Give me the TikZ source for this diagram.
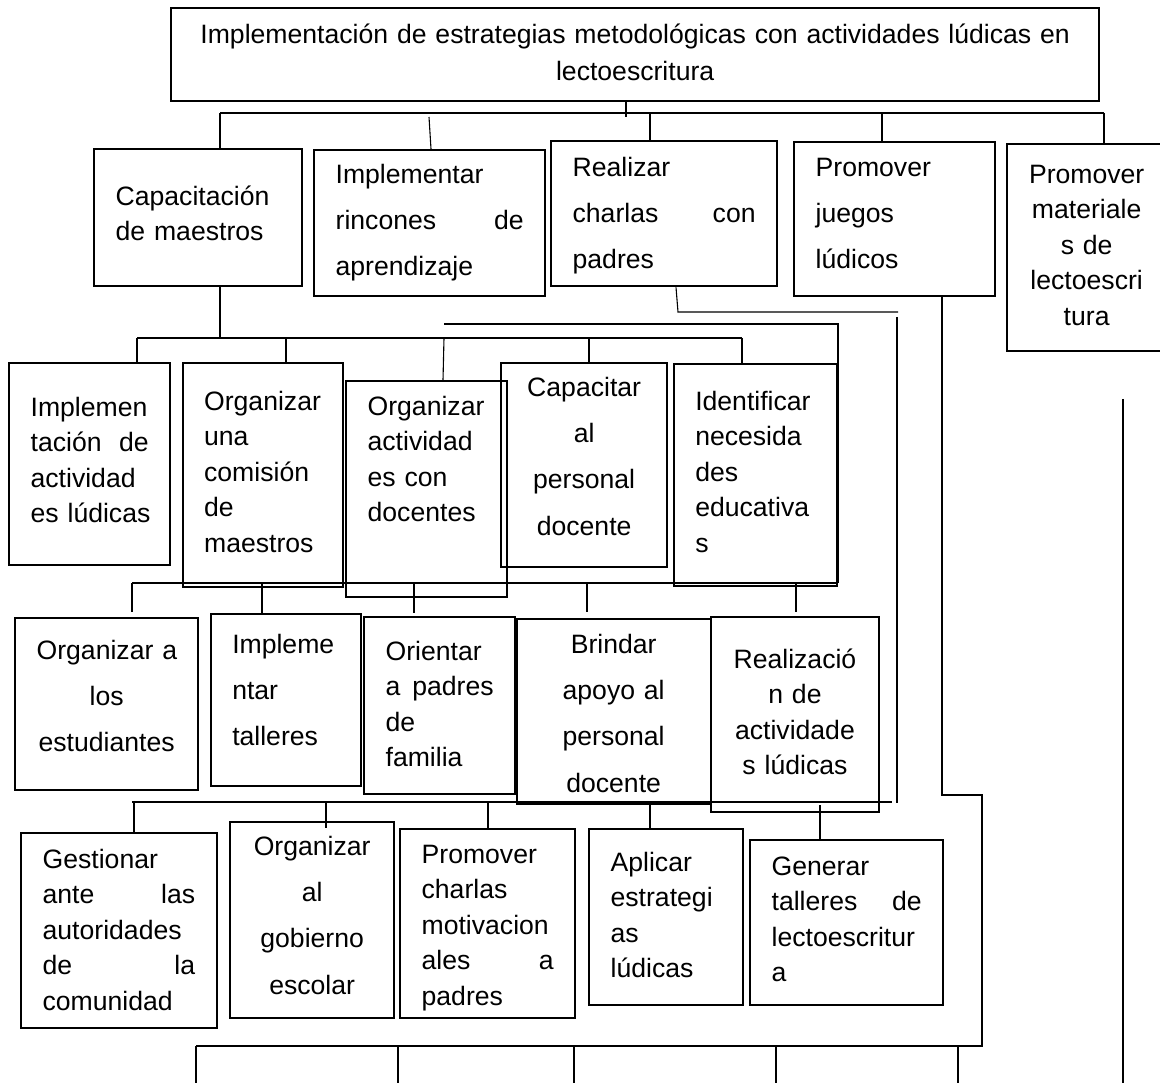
\documentclass[tikz,border=0pt]{standalone}
\usepackage{fontspec}
\setmainfont{Liberation Sans}
\hyphenpenalty=10000
\exhyphenpenalty=10000

\begin{document}
\begin{tikzpicture}[x=1pt, y=-1pt,
    caja/.style={draw, line width=2.3pt, anchor=north west, inner xsep=21.5pt, inner ysep=0pt, text height=0pt},
    uno/.style={font=\fontsize{26.6}{35.5}\selectfont},
    dos/.style={font=\fontsize{26.6}{46.3}\selectfont},
    linea/.style={line width=1.1pt}]
    \useasboundingbox (0,0) rectangle (1160,1083);

    % objetivo general
    \node[caja, align=center, font=\fontsize{26.6}{37}\selectfont, minimum width=928pt, minimum height=93pt, text width=885pt, text depth=23pt] (titulo) at (170,7) {Implementación de estrategias metodológicas con actividades lúdicas en\\lectoescritura};

    % primer nivel
    \node[caja, uno, align=left, minimum width=208pt, minimum height=137pt, text width=165pt, text depth=25pt] (capa) at (93,148) {Capacitación\\de~maestros};
    \node[caja, dos, align=left, minimum width=231pt, minimum height=146pt, text width=188pt, text depth=80pt] (rincones) at (313,149) {Implementar\\rincones\nobreak\hfill de\\aprendizaje};
    \node[caja, dos, align=left, minimum width=226pt, minimum height=145pt, text width=183pt, text depth=75pt] (realizar) at (550,140) {Realizar\\charlas\nobreak\hfill con\\padres};
    \node[caja, dos, align=left, minimum width=201pt, minimum height=154pt, text width=158pt, text depth=86pt] (juegos) at (793,141) {Promover\\juegos\\lúdicos};
    \node[caja, uno, align=center, minimum width=159pt, minimum height=207pt, text width=116pt, text depth=129pt] (materiales) at (1006,143) {Promover\\materiale\\s~de\\lectoescri\\tura};

    % segundo nivel
    \node[caja, uno, align=left, minimum width=161pt, minimum height=202pt, text width=118pt, text depth=96pt] (implact) at (8,362) {Implemen\\tación\nobreak\hfill de\\actividad\\es~lúdicas};
    \node[caja, uno, align=left, minimum width=160pt, minimum height=224pt, text width=117pt, text depth=130pt] (comision) at (181.5,362) {Organizar\\una\\comisión\\de\\maestros};
    \node[caja, uno, align=left, minimum width=161pt, minimum height=216pt, text width=118pt, text depth=148pt] (orgact) at (345,380) {Organizar\\actividad\\es~con\\docentes};
    \node[caja, dos, align=center, minimum width=166pt, minimum height=204pt, text width=123pt, text depth=138pt] (capacitar) at (500,362) {Capacitar\\al\\personal\\docente};
    \node[caja, uno, align=left, minimum width=163pt, minimum height=222pt, text width=120pt, text depth=130pt] (identificar) at (672.6,363) {Identificar\\necesida\\des\\educativa\\s};

    % tercer nivel
    \node[caja, dos, align=center, minimum width=183pt, minimum height=172pt, text width=140pt, text depth=90pt] (orgest) at (14,617) {Organizar~a\\los\\estudiantes};
    \node[caja, dos, align=left, minimum width=150.4pt, minimum height=172pt, text width=107.4pt, text depth=94pt] (talleres) at (209.6,613) {Impleme\\ntar\\talleres};
    \node[caja, uno, align=left, minimum width=151pt, minimum height=177pt, text width=108pt, text depth=91pt] (orientar) at (363,616) {Orientar\\a\nobreak\hfill padres\\de\\familia};
    \node[caja, dos, align=center, minimum width=194pt, minimum height=185pt, text width=151pt, text depth=117pt] (brindar) at (515.5,618) {Brindar\\apoyo~al\\personal\\docente};
    \node[caja, uno, align=center, minimum width=168.4pt, minimum height=195pt, text width=125.4pt, text depth=93pt] (realizacion) at (709.6,616) {Realizació\\n~de\\actividade\\s~lúdicas};

    % cuarto nivel
    \node[caja, uno, align=left, minimum width=195.5pt, minimum height=195pt, text width=152.5pt, text depth=125pt] (gestionar) at (20,832) {Gestionar\\ante\nobreak\hfill las\\autoridades\\de\nobreak\hfill la\\comunidad};
    \node[caja, dos, align=center, minimum width=164pt, minimum height=196pt, text width=121pt, text depth=130pt] (gobierno) at (229,821) {Organizar\\al\\gobierno\\escolar};
    \node[caja, uno, align=left, minimum width=175pt, minimum height=189pt, text width=132pt, text depth=121pt] (charlas) at (399,828) {Promover\\charlas\\motivacion\\ales\nobreak\hfill a\\padres};
    \node[caja, uno, align=left, minimum width=154pt, minimum height=176pt, text width=111pt, text depth=92pt] (aplicar) at (588,828) {Aplicar\\estrategi\\as\\lúdicas};
    \node[caja, uno, align=left, minimum width=193pt, minimum height=165pt, text width=150pt, text depth=95pt] (generar) at (749,839) {Generar\\talleres\nobreak\hfill de\\lectoescritur\\a};

    % conectores del objetivo
    \coordinate (a0) at (626,117);
    \coordinate (a1) at (220,113);
    \coordinate (a2) at (429,117);
    \coordinate (a3) at (650,113);
    \coordinate (a4) at (882,113);
    \coordinate (a5) at (1104,113);
    \draw[linea] (titulo.south -| a0) -- (a0);
    \draw[linea] (a1) -- (a5);
    \draw[linea] (a1) -- (a1 |- capa.north);
    \draw[linea] (a2) -- ([xshift=2pt]a2 |- rincones.north);
    \draw[linea] (a3) -- (a3 |- realizar.north);
    \draw[linea] (a4) -- (a4 |- juegos.north);
    \draw[linea] (a5) -- (a5 |- materiales.north);

    % conectores de capacitacion
    \coordinate (b0) at (220,338);
    \coordinate (b1) at (137,338);
    \coordinate (b2) at (286,338);
    \coordinate (b3) at (444,338);
    \coordinate (b4) at (589,338);
    \coordinate (b5) at (742,338);
    \draw[linea] (capa.south -| b0) -- (b0);
    \draw[linea] (b1) -- (b5);
    \draw[linea] (b1) -- (b1 |- implact.north);
    \draw[linea] (b2) -- (b2 |- comision.north);
    \draw[linea] (b3) -- ([xshift=-1pt]b3 |- orgact.north);
    \draw[linea] (b4) -- (b4 |- capacitar.north);
    \draw[linea] (b5) -- (b5 |- identificar.north);
    \coordinate (c1) at (444,324);
    \coordinate (c2) at (838,324);
    \coordinate (c3) at (838,583);
    \draw[linea] (c1) -- (c2) -- (c3);

    % conectores al tercer nivel
    \coordinate (d0) at (132,583);
    \coordinate (d1) at (262,583);
    \coordinate (d2) at (414,583);
    \coordinate (d3) at (587,583);
    \coordinate (d4) at (796,583);
    \draw[linea] (d0) -- (c3);
    \draw[linea] (d0) -- ([yshift=5pt]d0 |- orgest.north);
    \draw[linea] (d1) -- (d1 |- talleres.north);
    \draw[linea] (d2) -- ([yshift=3pt]d2 |- orientar.north);
    \draw[linea] (d3) -- ([yshift=6pt]d3 |- brindar.north);
    \draw[linea] (d4) -- ([yshift=4pt]d4 |- realizacion.north);

    % conectores al cuarto nivel
    \coordinate (e0) at (132,802);
    \coordinate (e1) at (326,802);
    \coordinate (e2) at (488,802);
    \coordinate (e3) at (650,802);
    \coordinate (e4) at (820,805);
    \coordinate (e5) at (892,802);
    \draw[linea] (e0) -- (e5);
    \draw[linea] ([xshift=2pt]e0) -- ([xshift=2pt]e0 |- gestionar.north);
    \draw[linea] (e1) -- ([yshift=-7pt]e1 |- gobierno.north);
    \draw[linea] (e2) -- (e2 |- charlas.north);
    \draw[linea] (e3) -- (e3 |- aplicar.north);
    \draw[linea] (e4) -- (e4 |- generar.north);

    % lineas de la derecha
    \coordinate (f1) at (678,312);
    \coordinate (f2) at (898,312);
    \coordinate (f3) at (897,317);
    \coordinate (f4) at (897,803);
    \draw[linea] ([xshift=-2pt]f1 |- realizar.south) -- (f1) -- (f2);
    \draw[linea] (f3) -- (f4);
    \coordinate (g1) at (942,795);
    \coordinate (g2) at (982,795);
    \coordinate (g3) at (982,1046);
    \coordinate (g4) at (196,1046);
    \draw[linea] (juegos.south -| g1) -- (g1) -- (g2) -- (g3) -- (g4);
    \foreach \x in {196,398,574,776,958}
        \draw[linea] (g4 -| \x,0) -- (\x,1090);
    \coordinate (v1) at (1123,399);
    \coordinate (v2) at (1123,1090);
    \draw[linea] (v1) -- (v2);
\end{tikzpicture}
\end{document}
